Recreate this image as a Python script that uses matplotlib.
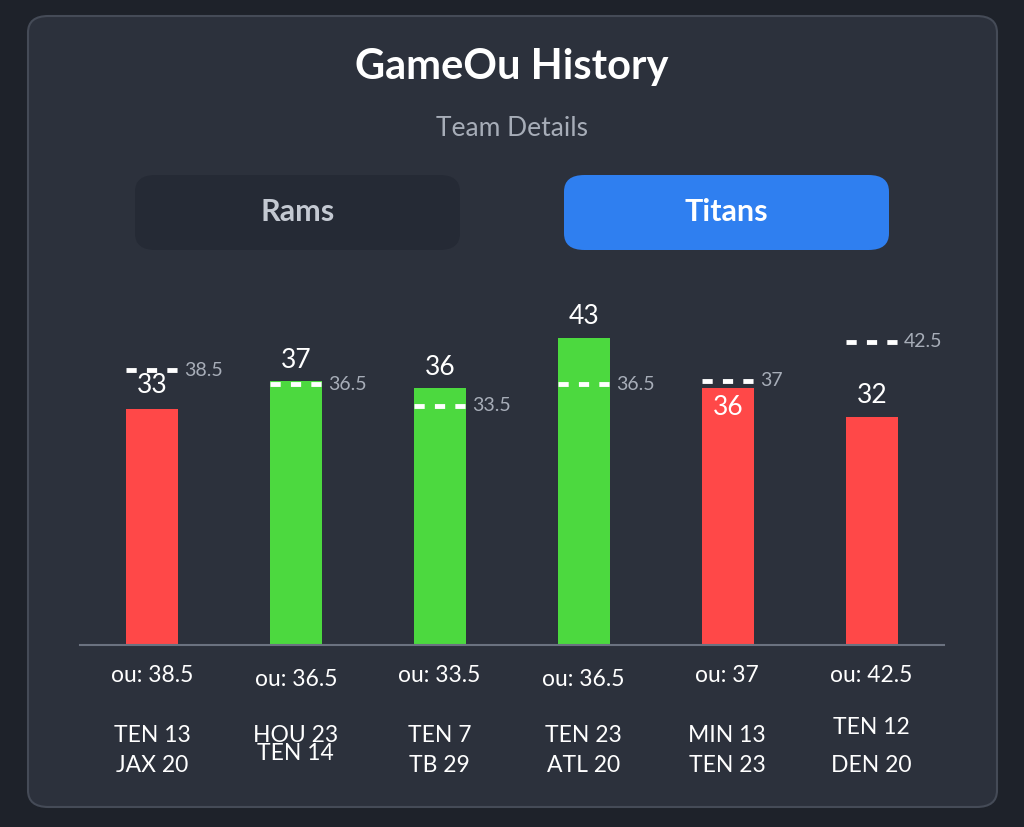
import matplotlib
matplotlib.use("Agg")
import matplotlib.pyplot as plt
from matplotlib.patches import FancyBboxPatch
import numpy as np

plt.rcParams["font.family"] = "Lato"

totals = [33, 37, 36, 43, 36, 32]
lines = [38.5, 36.5, 33.5, 36.5, 37, 42.5]
results = ["under", "over", "over", "over", "under", "under"]
ou_labels = ["ou: 38.5", "ou: 36.5", "ou: 33.5", "ou: 36.5", "ou: 37", "ou: 42.5"]
score_top = ["TEN 13", "HOU 23", "TEN 7", "TEN 23", "MIN 13", "TEN 12"]
score_bot = ["JAX 20", "TEN 14", "TB 29", "ATL 20", "TEN 23", "DEN 20"]

W, H = 1024, 827
fig = plt.figure(figsize=(W/100, H/100), dpi=100)
fig.patch.set_facecolor("#1e222a")

def fx(x): return x / W
def fy(y): return 1 - y / H

card = FancyBboxPatch((fx(28), fy(807)), fx(997) - fx(28), fy(16) - fy(807),
                      boxstyle="round,pad=0,rounding_size=0.02", transform=fig.transFigure,
                      facecolor="#2c313c", edgecolor="#454b57", linewidth=1.5, zorder=0)
fig.patches.append(card)

fig.text(0.5, fy(67), "GameOu History", ha="center", va="center", color="white",
         fontsize=30, fontweight="bold")
fig.text(0.5, fy(129), "Team Details", ha="center", va="center", color="#a7adb8", fontsize=19)

for x0, x1, col, lab in [(135, 460, "#252a35", "Rams"), (564, 889, "#2f7ff0", "Titans")]:
    b = FancyBboxPatch((fx(x0), fy(250)), fx(x1) - fx(x0), fy(175) - fy(250),
                       boxstyle="round,pad=0,rounding_size=0.02", transform=fig.transFigure,
                       facecolor=col, edgecolor="none", zorder=0.5)
    fig.patches.append(b)
    fig.text((fx(x0) + fx(x1)) / 2, fy(212), lab, ha="center", va="center",
             color="white" if lab == "Titans" else "#c4c9d2", fontsize=22, fontweight="bold")

ax_bottom, ax_top = 645, 300
ax = fig.add_axes([fx(80), fy(ax_bottom), fx(944) - fx(80), fy(ax_top) - fy(ax_bottom)])
ax.set_zorder(3)
ax.set_facecolor("none")
ymax = (ax_bottom - ax_top) / 7.14
ax.set_xlim(-0.5, 5.5)
ax.set_ylim(0, ymax)
for s in ["top", "right", "left"]:
    ax.spines[s].set_visible(False)
ax.spines["bottom"].set_color("#6b7280")
ax.spines["bottom"].set_linewidth(1.5)
ax.set_xticks([]); ax.set_yticks([])

x = np.arange(len(totals))
colors = ["#4cd93f" if r == "over" else "#ff4848" for r in results]
ax.bar(x, totals, width=0.36, color=colors)
label_off = [3.4, 2.9, 2.9, 3.0, -2.8, 3.0]
for i in x:
    ax.plot([i - 0.18, i + 0.18], [lines[i], lines[i]], color="white", lw=3.5,
            dashes=(2.1, 2.1), solid_capstyle="butt")
    ax.text(i + 0.22, lines[i], f"{lines[i]:g}", color="#a7adb8", fontsize=14,
            va="center", ha="left")
    ax.text(i, totals[i] + label_off[i], str(totals[i]), color="white", fontsize=19,
            ha="center", va="center")

ou_y = [676, 679, 676, 679, 676, 676]
top_y = [736, 736, 736, 736, 736, 727]
bot_y = [765, 753, 765, 765, 765, 765]
for i in x:
    cx = fx(152 + 143.8 * i)
    fig.text(cx, fy(ou_y[i]), ou_labels[i], ha="center", va="center", color="white", fontsize=16.5)
    fig.text(cx, fy(top_y[i]), score_top[i], ha="center", va="center", color="white", fontsize=16.5)
    fig.text(cx, fy(bot_y[i]), score_bot[i], ha="center", va="center", color="white", fontsize=16.5)

fig.savefig("out.png", dpi=100, facecolor=fig.get_facecolor())
